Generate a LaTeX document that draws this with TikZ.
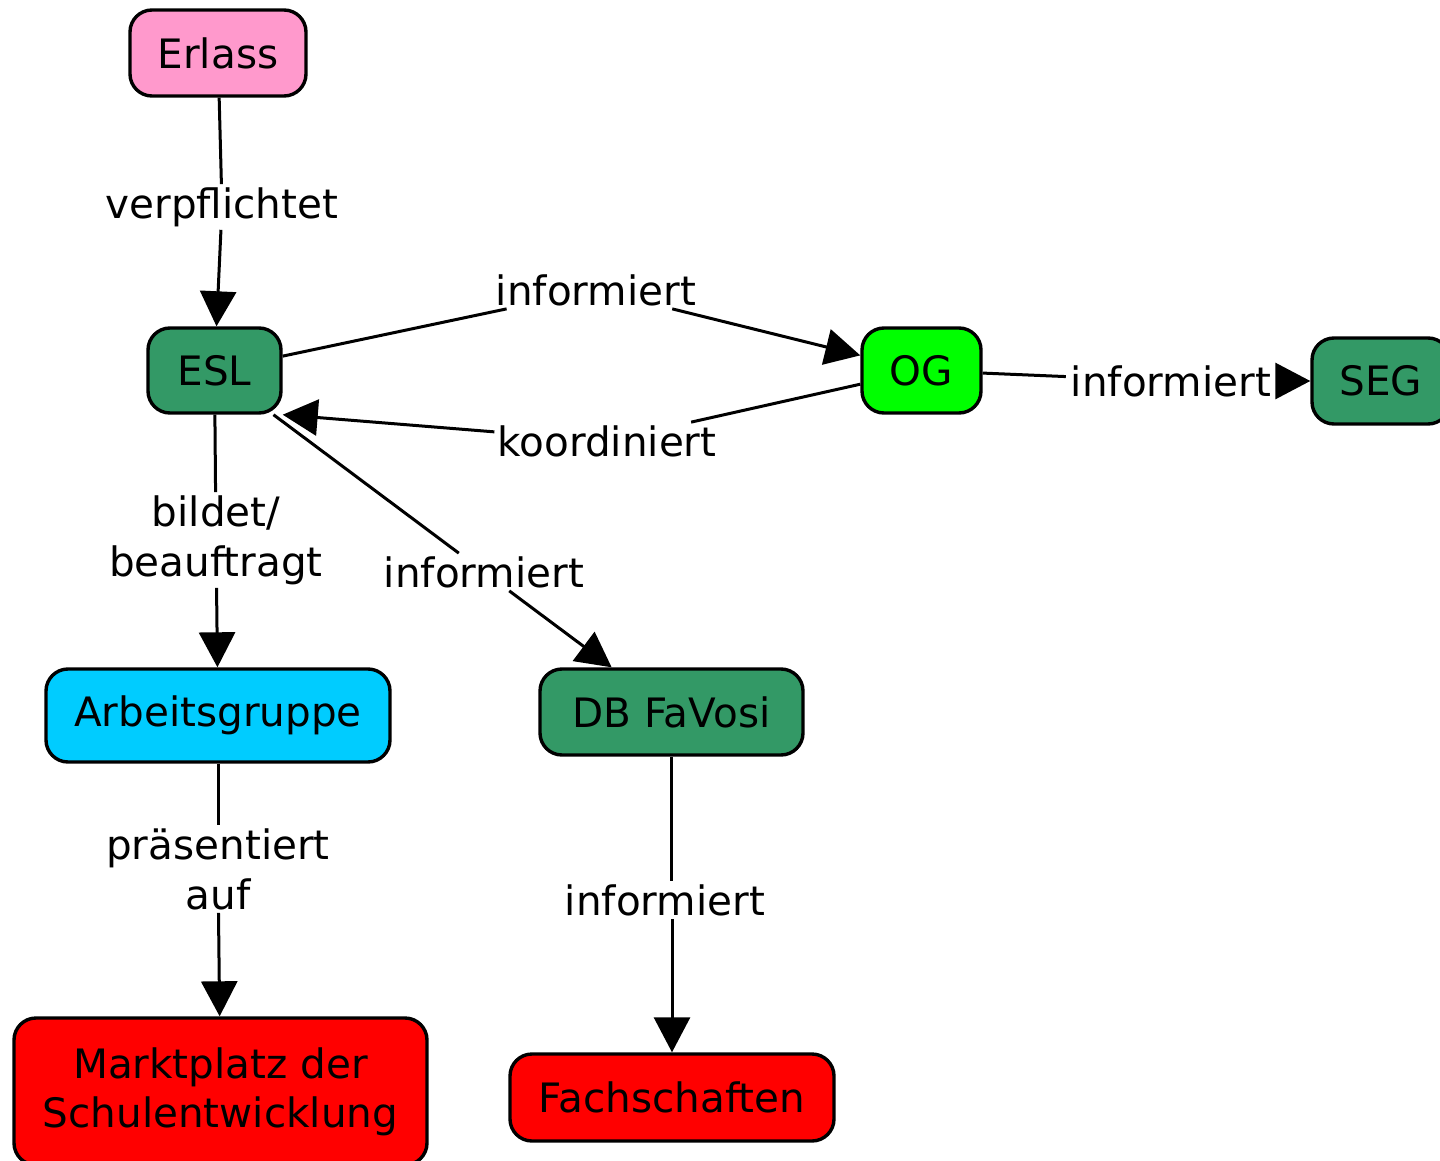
\documentclass[tikz,border=0pt]{standalone}
\usepackage{fontspec}
\setmainfont{DejaVu Sans}
\usetikzlibrary{arrows.meta}
\definecolor{cpink}{HTML}{FF99CC}
\definecolor{cgreen}{HTML}{339966}
\definecolor{clime}{HTML}{00FF00}
\definecolor{ccyan}{HTML}{00CCFF}
\definecolor{cred}{HTML}{FF0000}
\tikzset{
  concept/.style={draw=black, line width=3.4pt, rounded corners=22pt, align=center,
    inner sep=0pt, font=\fontsize{40.5}{49}\selectfont},
  phrase/.style={inner sep=3pt, align=center, font=\fontsize{40.5}{50}\selectfont},
  conn/.style={line width=3pt, draw=black},
  arr/.style={conn, -{Triangle[length=35pt,width=36pt]}}
}
\begin{document}
\begin{tikzpicture}[x=1pt,y=-1pt]
\useasboundingbox (0,0) rectangle (1440,1161);
\clip (0,0) rectangle (1440,1161);
% concepts
\node[concept, fill=cpink, minimum width=176pt, minimum height=86pt] (erlass) at (218,53) {Erlass};
\node[concept, fill=cgreen, minimum width=133pt, minimum height=85pt] (esl) at (214.5,370.5) {ESL};
\node[concept, fill=clime, minimum width=119pt, minimum height=85pt] (og) at (921.5,370.5) {OG};
\node[concept, fill=cgreen, minimum width=138pt, minimum height=86pt] (seg) at (1381,381) {SEG};
\node[concept, fill=ccyan, minimum width=344pt, minimum height=93pt] (ag) at (218,715.5) {Arbeitsgruppe};
\node[concept, fill=cgreen, minimum width=263pt, minimum height=86pt] (db) at (671.5,712) {DB FaVosi};
\node[concept, fill=cred, minimum width=413pt, minimum height=147pt] (mp) at (220.5,1091.5) {Marktplatz der\\Schulentwicklung};
\node[concept, fill=cred, minimum width=324pt, minimum height=87pt] (fach) at (672,1097.5) {Fachschaften};
% linking phrases
\node[phrase] (l1) at (222,207) {verpflichtet};
\node[phrase] (l2) at (596,290) {informiert};
\node[phrase] (l3) at (607,441) {koordiniert};
\node[phrase, inner xsep=5pt] (l4) at (1171,381) {informiert};
\node[phrase] (l5) at (216,540) {bildet/\\beauftragt};
\node[phrase] (l6) at (484,572) {informiert};
\node[phrase] (l7) at (218,869) {präsentiert\\auf};
\node[phrase] (l8) at (665,900) {informiert};
% connectors
\draw[conn] (erlass) -- (l1);
\draw[arr] (l1) -- (esl);
\draw[conn] (esl) -- (l2);
\draw[arr] (l2) -- (og);
\draw[conn] (og) -- (l3);
\draw[arr] (l3) -- (esl.south east);
\draw[conn] (og) -- (l4);
\draw[arr] (l4) -- (seg);
\draw[conn] (esl) -- (l5);
\draw[arr] (l5) -- (ag);
\draw[conn] (esl) -- (l6);
\draw[arr] (l6) -- (db);
\draw[conn] (ag) -- (l7);
\draw[arr] (l7) -- (mp);
\draw[conn] (db.south) -- (db.south |- l8.north);
\draw[arr] (fach.north |- l8.south) -- (fach.north);
\end{tikzpicture}
\end{document}
